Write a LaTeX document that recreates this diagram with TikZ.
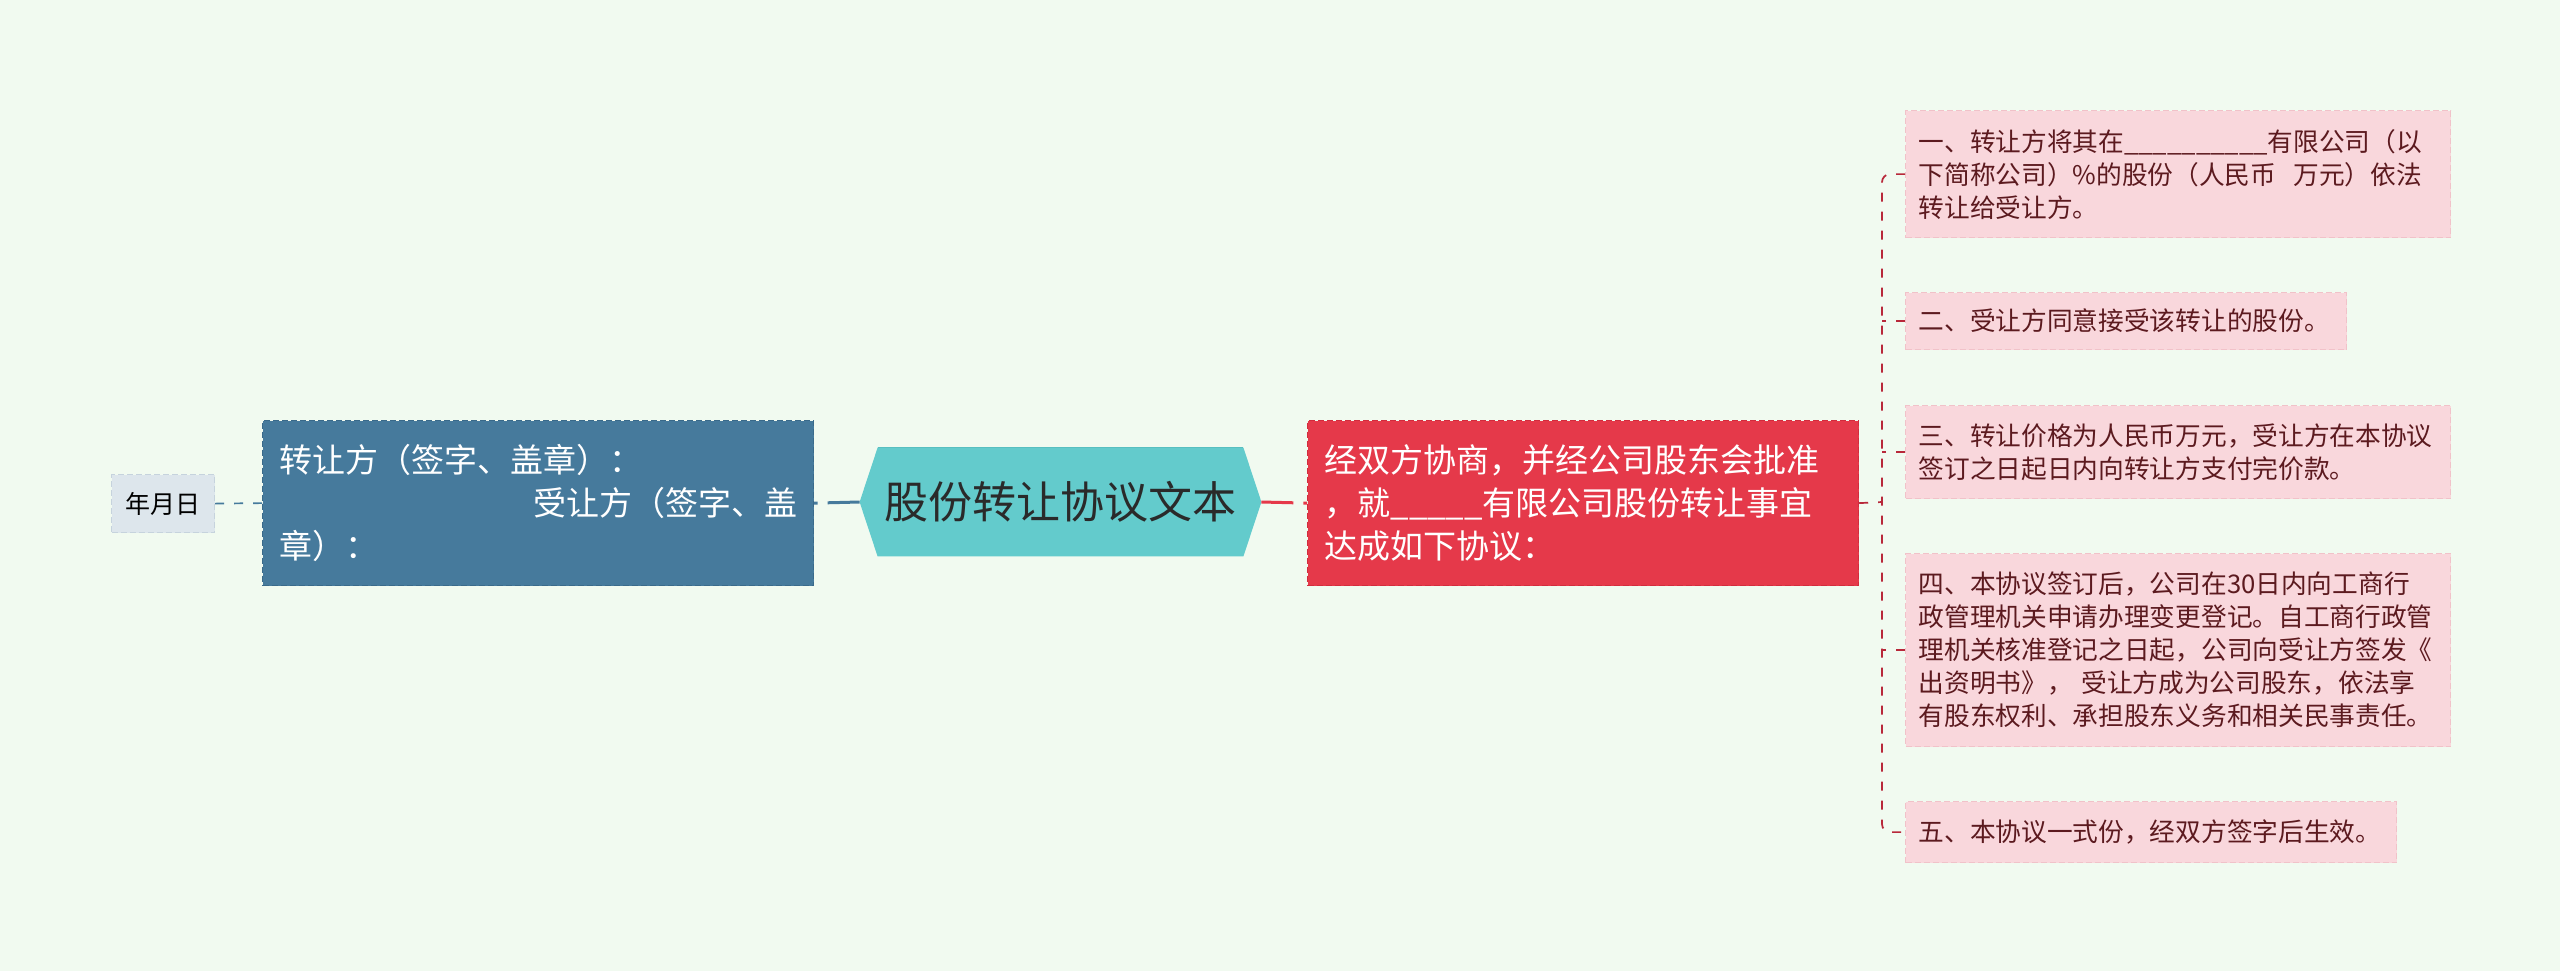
\documentclass[tikz,border=0pt]{standalone}
\usepackage{fontspec}
\newfontfamily\cjk{Noto Sans CJK SC}
\usetikzlibrary{calc}
\definecolor{bg}{HTML}{F1FAF0}
\definecolor{datefill}{HTML}{DDE6EC}
\definecolor{dateedge}{HTML}{C6D3DD}
\definecolor{bluefill}{HTML}{467A9C}
\definecolor{blueedge}{HTML}{3A6A8A}
\definecolor{hexfill}{HTML}{63CBCC}
\definecolor{hexedge}{HTML}{58BFC0}
\definecolor{redfill}{HTML}{E5394A}
\definecolor{rededge}{HTML}{D22C3D}
\definecolor{pinkfill}{HTML}{F9D7DC}
\definecolor{pinkedge}{HTML}{F1C2C9}
\definecolor{pinktext}{HTML}{5C1A1F}
\definecolor{rline}{HTML}{B8283A}
\definecolor{hextext}{HTML}{2A2A2A}
\tikzset{
  boxbase/.style={anchor=north west, inner ysep=0pt, dashed, dash pattern=on 3pt off 1.5pt, line width=0.6pt},
  datebox/.style={boxbase, fill=datefill, draw=dateedge, text=black, inner xsep=0pt,
     minimum width=51.5pt, minimum height=29pt, font=\cjk\fontsize{12.5}{15}\selectfont},
  bluebox/.style={boxbase, fill=bluefill, draw=blueedge, text=white, inner xsep=0pt, align=left,
     text width=259pt, minimum width=275.5pt, minimum height=82.5pt, font=\cjk\fontsize{16.5}{21.5}\selectfont},
  redbox/.style={boxbase, fill=redfill, draw=rededge, text=white, inner xsep=0pt, align=left,
     text width=258.5pt, minimum width=275.5pt, minimum height=82.5pt, font=\cjk\fontsize{16.5}{21.5}\selectfont},
  pinkbox/.style={boxbase, fill=pinkfill, draw=pinkedge, text=pinktext, inner xsep=6.5pt, align=left,
     font=\cjk\fontsize{12.85}{16.5}\selectfont},
  thinL/.style={draw=bluefill, line width=0.85pt, dash pattern=on 4.5pt off 5pt},
  thinR/.style={draw=rline, line width=0.85pt, dash pattern=on 4.5pt off 5pt},
  thickL/.style={draw=bluefill, line width=1.5pt, dash pattern=on 16pt off 5pt},
  thickR/.style={draw=redfill, line width=1.5pt, dash pattern=on 16pt off 5pt},
}
\begin{document}
\begin{tikzpicture}[x=0.5pt,y=-0.5pt]
\useasboundingbox[fill=bg] (0,0) rectangle (2560,971);

% left side
\node[datebox] (date) at (111,474) {年月日};
\node[bluebox] (blue) at (262,420) {转让方（签字、盖章）：\\\hspace*{\fill}受让方（签字、盖\hspace*{4pt}\\章）：};

% center hexagon
\node[inner sep=0pt, minimum width=200.5pt, minimum height=54pt] (hex) at (1060.5,502) {};
\fill[hexfill] (hex.west) -- ($(hex.north west)+(18,0)$) -- ($(hex.north east)+(-18,0)$)
   -- (hex.east) -- ($(hex.south east)+(-18,0)$) -- ($(hex.south west)+(18,0)$) -- cycle;
\draw[hexedge, line width=0.8pt] ($(hex.north west)+(18,0)$) -- ($(hex.north east)+(-18,0)$);
\node[text=hextext, font=\cjk\fontsize{22}{26}\selectfont, inner sep=0pt] (hextitle) at (hex.center) {股份转让协议文本};

% red box
\node[redbox] (red) at (1307,420) {经双方协商，并经公司股东会批准\\，就\_\_\_\_\_有限公司股份转让事宜\\达成如下协议：};

% right boxes
\node[pinkbox, text width=259.5pt, minimum height=63.5pt] (b1) at (1905,110)
  {一、转让方将其在\_\_\_\_\_\_\_\_\_\_有限公司（以\\下简称公司）\%的股份（人民币\ \ 万元）依法\\转让给受让方。};
\node[pinkbox, text width=207.5pt, minimum height=28.5pt] (b2) at (1905,292)
  {二、受让方同意接受该转让的股份。};
\node[pinkbox, text width=259.5pt, minimum height=46.5pt] (b3) at (1905,405)
  {三、转让价格为人民币万元，受让方在本协议\\签订之日起日内向转让方支付完价款。};
\node[pinkbox, text width=259.5pt, minimum height=96.5pt] (b4) at (1905,553)
  {四、本协议签订后，公司在30日内向工商行\\政管理机关申请办理变更登记。自工商行政管\\理机关核准登记之日起，公司向受让方签发《\\出资明书》，\ 受让方成为公司股东，依法享\\有股东权利、承担股东义务和相关民事责任。};
\node[pinkbox, text width=232.5pt, minimum height=30.5pt] (b5) at (1905,801)
  {五、本协议一式份，经双方签字后生效。};

% connectors
\draw[thinL] (date.east) -- (blue.west);
\draw[thickL] (hex.west) -- (blue.east);
\draw[thickR] (hex.east) -- (red.west);
\coordinate (trunk) at (1882,502);
\draw[thinR] (red.east) -- (trunk);
\draw[thinR, rounded corners=4pt] (b1.west) -- (b1.west -| trunk) -- (b5.west -| trunk) -- (b5.west);
\draw[thinR] (b2.west) -- (b2.west -| trunk);
\draw[thinR] (b3.west) -- (b3.west -| trunk);
\draw[thinR] (b4.west) -- (b4.west -| trunk);
\end{tikzpicture}
\end{document}
